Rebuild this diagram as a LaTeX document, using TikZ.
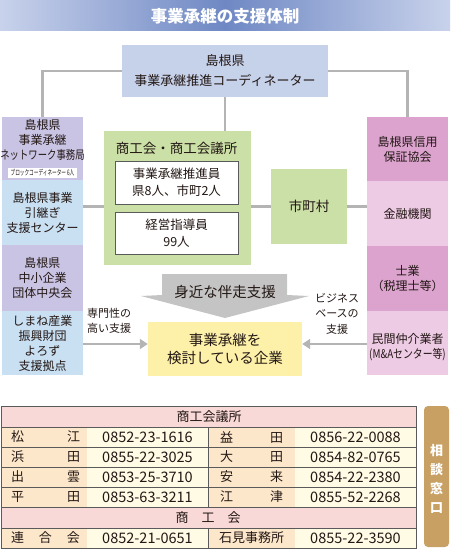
\documentclass[tikz,border=0pt]{standalone}
\usepackage{graphicx}
\usepackage{fontspec}
\setmainfont{Noto Sans CJK JP}
\usetikzlibrary{arrows.meta}

\definecolor{ink}{HTML}{231815}
\definecolor{bandlight}{HTML}{C8D2EB}
\definecolor{banddark}{HTML}{6F88C4}
\definecolor{topblue}{HTML}{C6D1EA}
\definecolor{lpurple}{HTML}{C9C4E3}
\definecolor{lblue}{HTML}{C9DFF2}
\definecolor{rmagenta}{HTML}{DBA3CE}
\definecolor{rpink}{HTML}{EDCBE4}
\definecolor{sgreen}{HTML}{CBE0A6}
\definecolor{syellow}{HTML}{FDF0A8}
\definecolor{lgray}{HTML}{B4B4B4}
\definecolor{agray}{HTML}{C4C4C4}
\definecolor{thead}{HTML}{F8D9D7}
\definecolor{tname}{HTML}{FDE7CB}
\definecolor{tphone}{HTML}{FFFBE5}
\definecolor{tline}{HTML}{5A5A5A}
\definecolor{tab}{HTML}{C9A064}

\begin{document}
\begin{tikzpicture}[x=1pt,y=-1pt,
    every node/.style={inner sep=0pt, text=ink},
    seg/.style={minimum width=81pt, align=center, font=\fontsize{12}{15}\selectfont},
    conn/.style={draw=lgray, line width=2.5pt},
    arr/.style={conn, -{Triangle[length=8pt,width=10pt]}},
    inbox/.style={draw=tline, line width=0.8pt, fill=white, minimum width=123pt, align=center, font=\fontsize{12.5}{17}\selectfont},
    side/.style={align=center, font=\fontsize{11}{15.5}\selectfont},
    tcell/.style={font=\fontsize{13}{15}\selectfont},
    tnum/.style={font=\fontsize{14.5}{16}\selectfont}]
  \useasboundingbox (0,0) rectangle (450,551);

  % title band
  \shade[left color=bandlight, right color=bandlight, middle color=banddark] (0,1) rectangle (450,31);
  \node[text=white, font=\fontsize{16.5}{18}\bfseries] (title) at (225,16) {事業承継の支援体制};

  % coordinator
  \node[fill=topblue, minimum width=206pt, minimum height=52pt, align=center,
        font=\fontsize{13}{20}\selectfont] (coord) at (225,71) {島根県\\事業承継推進コーディネーター};

  % left column
  \node[seg, fill=lpurple, minimum height=63pt] (l1) at (42.5,148.5) {};
  \node[seg] (l1t) at (42.5,140) {島根県\\事業承継\\\scalebox{0.78}[1]{ネットワーク事務局}};
  \node[fill=white, minimum width=69pt, minimum height=10pt, font=\fontsize{7.5}{8}\selectfont]
        (block) at (42.5,173) {\scalebox{0.62}[1]{ブロックコーディネーター 6人}};
  \node[seg, fill=lblue, minimum height=65pt] (l2) at (42.5,212.5) {島根県事業\\引継ぎ\\支援センター};
  \node[seg, fill=lpurple, minimum height=66pt] (l3) at (42.5,278) {島根県\\中小企業\\団体中央会};
  \node[seg, fill=lblue, minimum height=64pt] (l4) at (42.5,343) {しまね産業\\振興財団\\よろず\\支援拠点};

  % right column
  \node[seg, fill=rmagenta, minimum height=64pt] (r1) at (407.5,149) {島根県信用\\保証協会};
  \node[seg, fill=rpink, minimum height=65pt] (r2) at (407.5,213.5) {金融機関};
  \node[seg, fill=rmagenta, minimum height=65pt] (r3) at (407.5,278.5) {士業\\（税理士等）};
  \node[seg, fill=rpink, minimum height=64pt] (r4) at (407.5,343) {};
  \node[seg] (r4t) at (407.5,347.5) {民間仲介業者\\\scalebox{0.82}[1]{(M\&Aセンター等)}};

  % chamber of commerce
  \node[fill=sgreen, minimum width=147pt, minimum height=134pt] (shoko) at (177.5,198) {};
  \node[font=\fontsize{13.5}{15}\selectfont] (shokot) at (176.5,148) {商工会・商工会議所};
  \node[inbox, minimum height=43pt] (suishin) at (176.5,182.5) {事業承継推進員\\県8人、市町2人};
  \node[inbox, minimum height=42pt] (keiei) at (176.5,233) {経営指導員\\99人};

  % municipalities
  \node[fill=sgreen, minimum width=76pt, minimum height=75pt, font=\fontsize{13.5}{15}\selectfont]
        (shichou) at (309,206.5) {市町村};

  % target firm
  \node[fill=syellow, minimum width=154pt, minimum height=54pt, align=center,
        font=\fontsize{14.5}{18}\selectfont] (firm) at (225,349) {事業承継を\\検討している企業};

  % connectors
  \draw[conn] (coord.west) -| (l1.north);
  \draw[conn] (coord.east) -| (r1.north);
  \draw[conn] (coord.south) -- (coord.south |- shoko.north);
  \draw[conn] (shichou.west -| l2.east) -- (shichou.west -| shoko.west);
  \draw[conn] (shichou.west -| shoko.east) -- (shichou.west);
  \draw[conn] (shichou.east) -- (shichou.east -| r2.west);

  % big arrow
  \fill[agray] (162,274) -- (287,274) -- (287,295) -- (309,296) -- (225,318)
        -- (141,296) -- (162,295) -- cycle;
  \node[font=\fontsize{14.5}{16}\selectfont] (banso) at (225,292) {身近な伴走支援};

  % side arrows
  \draw[arr] (l4.east |- 0,344) -- (firm.west |- 0,344);
  \draw[arr] (r4.west |- 0,344) -- (firm.east |- 0,344);
  \node[side] (senmon) at (109,321) {専門性の\\高い支援};
  \node[side] (biz) at (337,313.5) {ビジネス\\ベースの\\支援};

  % contact table
  \fill[thead] (1,406) rectangle (416,427);
  \fill[thead] (1,507) rectangle (416,528);
  \foreach \ya/\yb in {427/507, 528/548} {
    \fill[tname] (1,\ya) rectangle (87,\yb);
    \fill[tphone] (87,\ya) rectangle (208,\yb);
    \fill[tname] (208,\ya) rectangle (295,\yb);
    \fill[tphone] (295,\ya) rectangle (416,\yb);
  }
  \foreach \y in {427,447,467,487,507,528}
    \draw[tline, line width=0.6pt] (1,\y) -- (416,\y);
  \draw[tline, line width=0.8pt] (208,427) -- (208,507);
  \draw[tline, line width=0.8pt] (208,528) -- (208,548);
  \draw[tline, line width=1pt] (1,406) rectangle (416,548);

  \node[tcell] (h1) at (209,416.5) {商工会議所};
  \node[tcell] (h2) at (208,517.5) {商　工　会};
  \foreach \y/\na/\nb/\pa/\pb/\pc/\pd in {437/松/江/0852-23-1616/益/田/0856-22-0088,
      457/浜/田/0855-22-3025/大/田/0854-82-0765,
      477/出/雲/0853-25-3710/安/来/0854-22-2380,
      497/平/田/0853-63-3211/江/津/0855-52-2268} {
    \node[tcell, text width=69pt, align=left] at (45.5,\y) {\na\hfill\nb};
    \node[tnum] at (147.5,\y) {\pa};
    \node[tcell, text width=63pt, align=left] at (251.5,\y) {\pb\hfill\pc};
    \node[tnum] at (355.5,\y) {\pd};
  }
  \node[tcell, text width=69pt, align=left] (rengo) at (45.5,538) {連\hfill 合\hfill 会};
  \node[tnum] (rengon) at (147.5,538) {0852-21-0651};
  \node[tcell] (iwami) at (251.5,538) {石見事務所};
  \node[tnum] (iwamin) at (355.5,538) {0855-22-3590};

  % side tab
  \fill[tab, rounded corners=4pt] (424,406) rectangle (449,547);
  \node[text=white, align=center, font=\fontsize{13}{19}\bfseries] (madoguchi) at (436.5,479)
        {相\\談\\窓\\口};
\end{tikzpicture}
\end{document}
